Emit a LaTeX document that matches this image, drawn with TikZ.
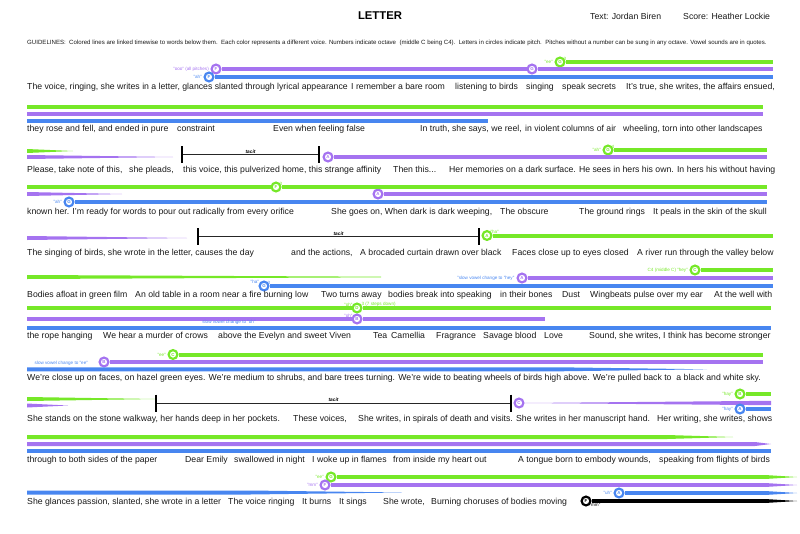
\documentclass[tikz,border=0pt]{standalone}
\usepackage{fontspec}
\setmainfont{Liberation Sans}
\usepackage{xcolor}
\usetikzlibrary{positioning}

\definecolor{vgreen}{RGB}{118,232,40}
\definecolor{vpurple}{RGB}{165,115,240}
\definecolor{vblue}{RGB}{72,134,240}

\begin{document}
\begin{tikzpicture}[x=1pt, y=-1pt,
    words/.style={anchor=base west, inner sep=0pt, text=black!90, font=\fontsize{8.7}{10}\selectfont},
    vowel/.style={inner sep=0.5pt, font=\fontsize{4.6}{5}\selectfont},
    pitch/.style={circle, draw=#1, text=#1, fill=white, line width=2.2pt, minimum size=8.8pt, inner sep=0pt, font=\fontsize{4.4}{5}\bfseries\selectfont},
    gline/.style={draw=vgreen, line width=4pt},
    pline/.style={draw=vpurple, line width=4pt},
    bline/.style={draw=vblue, line width=4pt},
    kline/.style={draw=black, line width=4pt},
    tacitline/.style={draw=black!85, line width=0.8pt},
    tacitbar/.style={draw=black, line width=2pt},
    tacitlab/.style={above, inner sep=1pt, font=\fontsize{4.8}{5}\bfseries\itshape\selectfont}]
    \useasboundingbox (0,0) rectangle (800,533);

    % header
    \node (title) [anchor=base, inner sep=0pt, font=\fontsize{11.3}{12}\bfseries\selectfont] at (380,19.3) {LETTER};
    \node (textby) [words, font=\fontsize{8.7}{10}\selectfont] at (590,19.3) {Text: Jordan Biren};
    \node (scoreby) [words, font=\fontsize{8.7}{10}\selectfont] at (683,19.3) {Score: Heather Lockie};
    \node (guide) [words, font=\fontsize{6.1}{7}\selectfont] at (27,44) {GUIDELINES:\ \ Colored lines are linked timewise to words below them.\ \ Each color represents a different voice. Numbers indicate octave\ \ (middle C being C4).\ \ Letters in circles indicate pitch.\ \ Pitches without a number can be sung in any octave. Vowel sounds are in quotes.};

    % row 1
    \node (p1) [pitch=vpurple] at (216,69) {F};
    \node (b1) [pitch=vblue] at (209,77) {F};
    \node (p1b) [pitch=vpurple] at (532,69) {G};
    \node (g1) [pitch=vgreen] at (560,62) {G};
    \node (p1lab) [vowel, vpurple, left=1pt of p1] {"ooo" (all pitches)};
    \node (b1lab) [vowel, vblue, left=1pt of b1] {"ah"};
    \node (g1lab) [vowel, vgreen, left=1pt of g1] {"ee"};
    \node (g1oct) [vowel, vgreen, above right=-3pt and -1pt of g1] {3};
    \coordinate (r1g) at (773,62); \coordinate (r1p) at (773,69); \coordinate (r1b) at (773,77);
    \draw[pline] (p1) -- (p1b) -- (r1p);
    \draw[bline] (b1) -- (r1b);
    \draw[gline] (g1) -- (r1g);
    \node (t1a) [words] at (27,89.5) {The voice, ringing, she writes in a letter, glances slanted through lyrical appearance};
    \node (t1b) [words] at (351,89.5) {I remember a bare room};
    \node (t1c) [words] at (455,89.5) {listening to birds};
    \node (t1d) [words] at (526,89.5) {singing};
    \node (t1e) [words] at (562,89.5) {speak secrets};
    \node (t1f) [words] at (626,89.5) {It's true, she writes, the affairs ensued,};

    % row 2
    \coordinate (l2g) at (27,107); \coordinate (r2g) at (763,107);
    \coordinate (l2p) at (27,114); \coordinate (r2p) at (763,114);
    \coordinate (l2b) at (27,121); \coordinate (r2b) at (488,121);
    \draw[gline] (l2g) -- (r2g);
    \draw[pline] (l2p) -- (r2p);
    \draw[bline] (l2b) -- (r2b);
    \node (t2a) [words] at (27,131) {they rose and fell, and ended in pure};
    \node (t2b) [words] at (177,131) {constraint};
    \node (t2c) [words] at (273,131) {Even when feeling false};
    \node (t2d) [words] at (420,131) {In truth, she says, we reel,};
    \node (t2e) [words] at (525,131) {in violent columns of air};
    \node (t2f) [words] at (623,131) {wheeling, torn into other landscapes};

    % row 3
    \fill[vgreen] (27,149) -- (73,151) -- (27,153) -- cycle;
    \fill[vpurple] (27,155) -- (173,157) -- (27,159) -- cycle;
    \coordinate (tac3a) at (182,154.5); \coordinate (tac3b) at (319,154.5);
    \draw[tacitline] (tac3a) -- node (tac3) [tacitlab] {tacit} (tac3b);
    \draw[tacitbar] (tac3a) ++(0,-8.5) -- ++(0,17);
    \draw[tacitbar] (tac3b) ++(0,-8.5) -- ++(0,17);
    \node (p3) [pitch=vpurple] at (328,157) {A};
    \node (g3) [pitch=vgreen] at (608,150) {G};
    \node (g3lab) [vowel, vgreen, left=1pt of g3] {"ah"};
    \node (g3oct) [vowel, vgreen, above right=-3pt and -1pt of g3] {4};
    \coordinate (r3g) at (767,150); \coordinate (r3p) at (767,157);
    \draw[pline] (p3) -- (r3p);
    \draw[gline] (g3) -- (r3g);
    \node (t3a) [words] at (27,172.5) {Please, take note of this,};
    \node (t3b) [words] at (129,172.5) {she pleads,};
    \node (t3c) [words] at (183,172.5) {this voice, this pulverized home, this strange affinity};
    \node (t3d) [words] at (393,172.5) {Then this...};
    \node (t3e) [words] at (449,172.5) {Her memories on a dark surface. He sees in hers his own. In hers his without having};

    % row 4
    \node (g4) [pitch=vgreen] at (276,187) {F};
    \node (g4oct) [vowel, vgreen, above right=-3pt and -1pt of g4] {3};
    \node (p4) [pitch=vpurple] at (378,194) {A};
    \node (b4) [pitch=vblue] at (69,202) {G};
    \node (b4lab) [vowel, vblue, left=1pt of b4] {"ah"};
    \coordinate (l4g) at (27,187); \coordinate (r4g) at (767,187);
    \coordinate (r4p) at (767,194); \coordinate (r4b) at (767,202);
    \draw[gline] (l4g) -- (g4) -- (r4g);
    \fill[vpurple] (27,192) -- (122,194) -- (27,196) -- cycle;
    \draw[pline] (p4) -- (r4p);
    \draw[bline] (b4) -- (r4b);
    \node (t4a) [words] at (27,214) {known her. I'm ready for words to pour out radically from every orifice};
    \node (t4b) [words] at (331,214) {She goes on, When dark is dark weeping,};
    \node (t4c) [words] at (500,214) {The obscure};
    \node (t4d) [words] at (579,214) {The ground rings};
    \node (t4e) [words] at (653,214) {It peals in the skin of the skull};

    % row 5
    \fill[vpurple] (27,236) -- (187,238) -- (27,240) -- cycle;
    \coordinate (tac5a) at (198,236.5); \coordinate (tac5b) at (479,236.5);
    \draw[tacitline] (tac5a) -- node (tac5) [tacitlab] {tacit} (tac5b);
    \draw[tacitbar] (tac5a) ++(0,-8.5) -- ++(0,17);
    \draw[tacitbar] (tac5b) ++(0,-8.5) -- ++(0,17);
    \node (g5) [pitch=vgreen] at (487,235.5) {A};
    \node (g5lab) [vowel, vgreen, above right=-3pt and -1pt of g5] {"ha"};
    \coordinate (r5g) at (773,235.5);
    \draw[gline] (g5) -- (r5g);
    \node (t5a) [words] at (27,255.5) {The singing of birds, she wrote in the letter, causes the day};
    \node (t5b) [words] at (291,255.5) {and the actions,};
    \node (t5c) [words] at (360,255.5) {A brocaded curtain drawn over black};
    \node (t5d) [words] at (512,255.5) {Faces close up to eyes closed};
    \node (t5e) [words] at (637,255.5) {A river run through the valley below};

    % row 6
    \fill[vgreen] (27,275) -- (381,276.7) -- (381,277.3) -- (27,279) -- cycle;
    \node (b6) [pitch=vblue] at (264,286) {G};
    \node (b6lab) [vowel, vblue, above left=-2.5pt and 0.5pt of b6] {"ha"};
    \node (b6oct) [vowel, vblue, above right=-3pt and -1pt of b6] {3};
    \node (p6) [pitch=vpurple] at (522,278) {A};
    \node (p6lab) [vowel, vblue, left=1.5pt of p6] {"slow vowel change to "hey"};
    \node (g6) [pitch=vgreen] at (695,270) {C};
    \node (g6lab) [vowel, vgreen, left=1pt of g6] {C4 (middle C) "hey"};
    \coordinate (r6g) at (773,270); \coordinate (r6p) at (773,278); \coordinate (r6b) at (773,286);
    \draw[bline] (b6) -- (r6b);
    \draw[pline] (p6) -- (r6p);
    \draw[gline] (g6) -- (r6g);
    \node (t6a) [words] at (27,297) {Bodies afloat in green film};
    \node (t6b) [words] at (135,297) {An old table in a room near a fire burning low};
    \node (t6c) [words] at (321,297) {Two turns away};
    \node (t6d) [words] at (388,297) {bodies break into speaking};
    \node (t6e) [words] at (500,297) {in their bones};
    \node (t6f) [words] at (562,297) {Dust};
    \node (t6g) [words] at (590,297) {Wingbeats pulse over my ear};
    \node (t6h) [words] at (714,297) {At the well with};

    % row 7
    \node (g7) [pitch=vgreen] at (357,308) {D};
    \node (g7lab) [vowel, vgreen, above left=-3pt and 0pt of g7] {"oh"};
    \node (g7oct) [vowel, vgreen, above right=-3pt and 0pt of g7] {3 (7 steps down)};
    \node (p7) [pitch=vpurple] at (357,319) {B};
    \node (p7lab) [vowel, vpurple, above left=-3pt and 0pt of p7] {"oh"};
    \coordinate (l7g) at (27,308); \coordinate (r7g) at (771,308);
    \coordinate (l7p) at (27,319); \coordinate (r7p) at (545,319);
    \coordinate (l7b) at (27,327.5); \coordinate (r7b) at (771,327.5);
    \draw[gline] (l7g) -- (g7) -- (r7g);
    \draw[pline] (l7p) -- (p7) -- (r7p);
    \draw[bline] (l7b) -- (r7b);
    \node (b7lab) [vowel, vblue, anchor=south] at (229,325.5) {slow vowel change to "oh"};
    \node (t7a) [words] at (27,338.5) {the rope hanging};
    \node (t7b) [words] at (103,338.5) {We hear a murder of crows};
    \node (t7c) [words] at (218,338.5) {above the Evelyn and sweet Viven};
    \node (t7d) [words] at (373,338.5) {Tea};
    \node (t7e) [words] at (391,338.5) {Camellia};
    \node (t7f) [words] at (436,338.5) {Fragrance};
    \node (t7g) [words] at (483,338.5) {Savage blood};
    \node (t7h) [words] at (544,338.5) {Love};
    \node (t7i) [words] at (589,338.5) {Sound, she writes, I think has become stronger};

    % row 8
    \node (g8) [pitch=vgreen] at (173,354.5) {C};
    \node (g8lab) [vowel, vgreen, left=1pt of g8] {"ee"};
    \node (p8) [pitch=vpurple] at (104,362) {B};
    \coordinate (r8g) at (763,354.5); \coordinate (r8p) at (763,362);
    \draw[gline] (g8) -- (r8g);
    \draw[pline] (p8) -- (r8p);
    \fill[vblue] (27,367.3) -- (560,367.3) -- (707,369.3) -- (560,371.3) -- (27,371.3) -- cycle;
    \node (b8lab) [vowel, vblue, anchor=south west] at (34,366.5) {slow vowel change to "ee"};
    \node (t8a) [words] at (27,380) {We're close up on faces, on hazel green eyes. We're medium to shrubs, and bare trees turning. We're wide to beating wheels of birds high above. We're pulled back to\ \ a black and white sky.};

    % row 9
    \fill[vgreen] (27,397) -- (156,399) -- (27,401) -- cycle;
    \fill[vpurple] (27,403.5) -- (68,405.5) -- (27,407.5) -- cycle;
    \coordinate (tac9a) at (156,403); \coordinate (tac9b) at (511,403);
    \draw[tacitline] (tac9a) -- node (tac9) [tacitlab] {tacit} (tac9b);
    \draw[tacitbar] (tac9a) ++(0,-8.5) -- ++(0,17);
    \draw[tacitbar] (tac9b) ++(0,-8.5) -- ++(0,17);
    \node (p9) [pitch=vpurple] at (519,403) {C};
    \fill[vpurple] (p9.east) -- (771,400.8) -- (771,405.2) -- cycle;
    \node (g9) [pitch=vgreen] at (740,394) {B};
    \node (g9lab) [vowel, vgreen, left=1pt of g9] {"hay"};
    \node (b9) [pitch=vblue] at (740,409) {A};
    \node (b9lab) [vowel, vblue, left=1pt of b9] {"hay"};
    \coordinate (r9g) at (771,394); \coordinate (r9b) at (771,409);
    \draw[gline] (g9) -- (r9g);
    \draw[bline] (b9) -- (r9b);
    \node (t9a) [words] at (27,421) {She stands on the stone walkway, her hands deep in her pockets.};
    \node (t9b) [words] at (293,421) {These voices,};
    \node (t9c) [words] at (358,421) {She writes, in spirals of death and visits. She writes in her manuscript hand.};
    \node (t9d) [words] at (657,421) {Her writing, she writes, shows};

    % row 10
    \fill[vgreen] (27,435) -- (667,435) -- (733,437) -- (667,439) -- (27,439) -- cycle;
    \fill[vpurple] (27,442) -- (755,442) -- (771,444) -- (755,446) -- (27,446) -- cycle;
    \coordinate (l10b) at (27,451); \coordinate (r10b) at (771,451);
    \draw[bline] (l10b) -- (r10b);
    \node (t10a) [words] at (27,462.5) {through to both sides of the paper};
    \node (t10b) [words] at (185,462.5) {Dear Emily};
    \node (t10c) [words] at (234,462.5) {swallowed in night};
    \node (t10d) [words] at (312,462.5) {I woke up in flames};
    \node (t10e) [words] at (393,462.5) {from inside my heart out};
    \node (t10f) [words] at (518,462.5) {A tongue born to embody wounds,};
    \node (t10g) [words] at (659,462.5) {speaking from flights of birds};

    % row 11
    \node (g11) [pitch=vgreen] at (331,477) {G};
    \node (g11lab) [vowel, vgreen, left=1pt of g11] {"ee"};
    \node (p11) [pitch=vpurple] at (325,485) {F};
    \node (p11lab) [vowel, vpurple, left=1pt of p11] {"mm"};
    \node (b11) [pitch=vblue] at (619,493) {A};
    \node (b11lab) [vowel, vblue, left=1pt of b11] {"uh"};
    \node (k11) [pitch=black] at (586,501) {F};
    \node (k11lab) [vowel, black, below right=-2.5pt and -1pt of k11] {"mm"};
    \coordinate (r11g) at (765,477); \coordinate (r11p) at (765,485);
    \coordinate (r11b) at (765,493); \coordinate (r11k) at (765,501);
    \draw[gline] (g11) -- (r11g);
    \draw[pline] (p11) -- (r11p);
    \draw[bline] (b11) -- (r11b);
    \draw[kline] (k11) -- (r11k);
    \fill[vgreen] (765,475) -- (797,477) -- (765,479) -- cycle;
    \fill[vpurple] (765,483) -- (797,485) -- (765,487) -- cycle;
    \fill[vblue] (765,491) -- (797,493) -- (765,495) -- cycle;
    \fill[black] (765,499) -- (797,501) -- (765,503) -- cycle;
    \fill[vblue] (27,490.5) -- (250,490.5) -- (402,492.5) -- (250,494.5) -- (27,494.5) -- cycle;
    \node (t11a) [words] at (27,504) {She glances passion, slanted, she wrote in a letter};
    \node (t11b) [words] at (228,504) {The voice ringing};
    \node (t11c) [words] at (302,504) {It burns};
    \node (t11d) [words] at (339,504) {It sings};
    \node (t11e) [words] at (383,504) {She wrote,};
    \node (t11f) [words] at (431,504) {Burning choruses of bodies moving};
\end{tikzpicture}
\end{document}
